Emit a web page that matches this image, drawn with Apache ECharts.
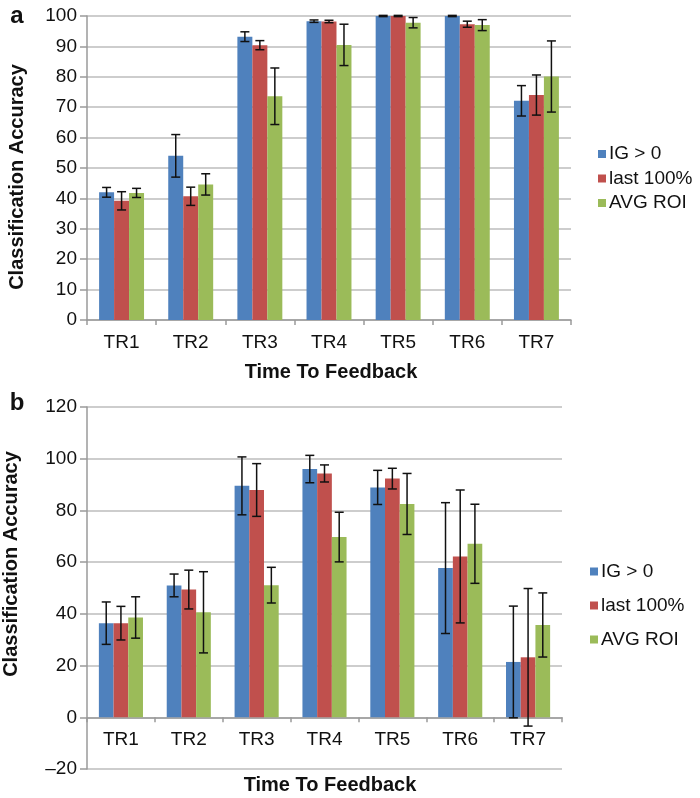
<!DOCTYPE html>
<html>
<head>
<meta charset="utf-8">
<script src="https://cdn.jsdelivr.net/npm/echarts@6/dist/echarts.min.js"></script>
<style>html,body{margin:0;padding:0;background:#fff}#c{width:700px;height:798px}</style>
</head>
<body>
<div id="c"></div>
<script>
var categories = ['TR1','TR2','TR3','TR4','TR5','TR6','TR7'];
var seriesNames = ['IG > 0','last 100%','AVG ROI'];
// Panel a
var blueA = [42, 54, 93.2, 98.3, 100, 100, 72.1];
var blueAErr = [1.6, 7, 1.6, 0.4, 0.2, 0.2, 5];
var redA = [39.2, 40.7, 90.4, 98.2, 100, 97.3, 74];
var redAErr = [3, 3, 1.5, 0.4, 0.2, 1, 6.6];
var greenA = [41.8, 44.6, 73.6, 90.5, 97.8, 97, 80.1];
var greenAErr = [1.5, 3.5, 9.3, 6.8, 1.7, 1.8, 11.7];
// Panel b
var blueB = [36.4, 51, 89.5, 96, 88.9, 57.7, 21.4];
var blueBErr = [8.2, 4.4, 11.2, 5.3, 6.6, 25.3, 21.6];
var redB = [36.4, 49.4, 87.9, 94.3, 92.3, 62.2, 23.2];
var redBErr = [6.5, 7.5, 10.2, 3.3, 4, 25.7, 26.6];
var greenB = [38.6, 40.6, 51.1, 69.7, 82.5, 67.1, 35.7];
var greenBErr = [8, 15.7, 6.9, 9.6, 11.8, 15.3, 12.4];
var yTicksA = {min: 0, max: 100, interval: 10};
var yTicksB = {min: -20, max: 120, interval: 20};

var colors = ['#4F81BD', '#C0504D', '#9BBB59'];
var FONT = '"Liberation Sans", Arial, Helvetica, sans-serif';
var GAP = 0.35;
var TICK_FS = 19;

function errSeries(vals, errs, pos, gi) {
  return {
    type: 'custom', xAxisIndex: gi, yAxisIndex: gi, z: 5, silent: true,
    data: vals.map(function (v, i) { return [i, v, errs[i]]; }),
    encode: {x: 0, y: 1},
    renderItem: function (params, api) {
      var i = api.value(0), v = api.value(1), e = api.value(2);
      var bw = api.size([1, 0])[0] * (1 - GAP) / 3;
      var off = (pos - 1) * bw;
      var top = api.coord([i, v + e]);
      var bot = api.coord([i, v - e]);
      var x = top[0] + off, cw = 4.5;
      var st = {stroke: '#111', lineWidth: 1.5};
      return {type: 'group', children: [
        {type: 'line', shape: {x1: x, y1: top[1], x2: x, y2: bot[1]}, style: st},
        {type: 'line', shape: {x1: x - cw, y1: top[1], x2: x + cw, y2: top[1]}, style: st},
        {type: 'line', shape: {x1: x - cw, y1: bot[1], x2: x + cw, y2: bot[1]}, style: st}
      ]};
    }
  };
}
function barSeries(name, vals, ci, gi) {
  return {name: name, type: 'bar', xAxisIndex: gi, yAxisIndex: gi, data: vals,
    barGap: '0%', barCategoryGap: (GAP * 100) + '%', itemStyle: {color: colors[ci]}};
}
function xAx(gi, offset) {
  return {type: 'category', gridIndex: gi, data: categories, position: 'bottom', offset: offset,
    axisLine: {onZero: false, lineStyle: {color: '#9a9a9a', width: 1.5}},
    axisTick: {show: true, length: 5, lineStyle: {color: '#9a9a9a', width: 1.5}},
    axisLabel: {color: '#111', fontSize: TICK_FS, fontFamily: FONT, margin: 13},
    splitLine: {show: false}};
}
function yAx(gi, t) {
  return {type: 'value', gridIndex: gi, min: t.min, max: t.max, interval: t.interval,
    axisLine: {show: true, lineStyle: {color: '#9a9a9a', width: 1.5}},
    axisTick: {show: true, length: 7, lineStyle: {color: '#9a9a9a', width: 1.5}},
    axisLabel: {color: '#111', fontSize: TICK_FS, fontFamily: FONT, margin: 10,
      formatter: function (v) { return String(v).replace('-', '\u2013'); }},
    splitLine: {show: true, lineStyle: {color: '#bdbdbd', width: 1.5}}};
}
function legendAt(top, gap, left) {
  return {orient: 'vertical', left: left, top: top, data: seriesNames, itemWidth: 8, itemHeight: 8,
    itemGap: gap, icon: 'rect', selectedMode: false,
    textStyle: {color: '#111', fontSize: TICK_FS, fontFamily: FONT, padding: [0, 0, 0, -2]}};
}
function txt(t, x, y, size, rot) {
  return {type: 'text', x: x, y: y, rotation: rot || 0, silent: true,
    style: {text: t, fill: '#111', font: 'bold ' + size + 'px ' + FONT, textAlign: 'center', textVerticalAlign: 'middle'}};
}

// panel b: x axis sits on the zero line
var gridBTop = 407, gridBBottom = 769;
var zeroOffset = -(gridBBottom - gridBTop) * (0 - yTicksB.min) / (yTicksB.max - yTicksB.min);

var chart = echarts.init(document.getElementById('c'));
chart.setOption({
  animation: false,
  grid: [
    {left: 87, top: 16, right: 129, bottom: 478},
    {left: 87, top: gridBTop, right: 138, bottom: 798 - gridBBottom}
  ],
  xAxis: [xAx(0, 0), xAx(1, zeroOffset)],
  yAxis: [yAx(0, yTicksA), yAx(1, yTicksB)],
  legend: [legendAt(139.5, 5.5, 593), legendAt(557, 15, 585)],
  graphic: [
    txt('a', 17, 16, 24),
    txt('b', 17, 403, 24),
    txt('Classification Accuracy', 17, 177, 20, Math.PI / 2),
    txt('Classification Accuracy', 11, 564, 20, Math.PI / 2),
    txt('Time To Feedback', 331, 372, 20),
    txt('Time To Feedback', 330, 785, 20)
  ],
  series: [
    barSeries(seriesNames[0], blueA, 0, 0),
    barSeries(seriesNames[1], redA, 1, 0),
    barSeries(seriesNames[2], greenA, 2, 0),
    barSeries(seriesNames[0], blueB, 0, 1),
    barSeries(seriesNames[1], redB, 1, 1),
    barSeries(seriesNames[2], greenB, 2, 1),
    errSeries(blueA, blueAErr, 0, 0),
    errSeries(redA, redAErr, 1, 0),
    errSeries(greenA, greenAErr, 2, 0),
    errSeries(blueB, blueBErr, 0, 1),
    errSeries(redB, redBErr, 1, 1),
    errSeries(greenB, greenBErr, 2, 1)
  ]
});
</script>
</body>
</html>
